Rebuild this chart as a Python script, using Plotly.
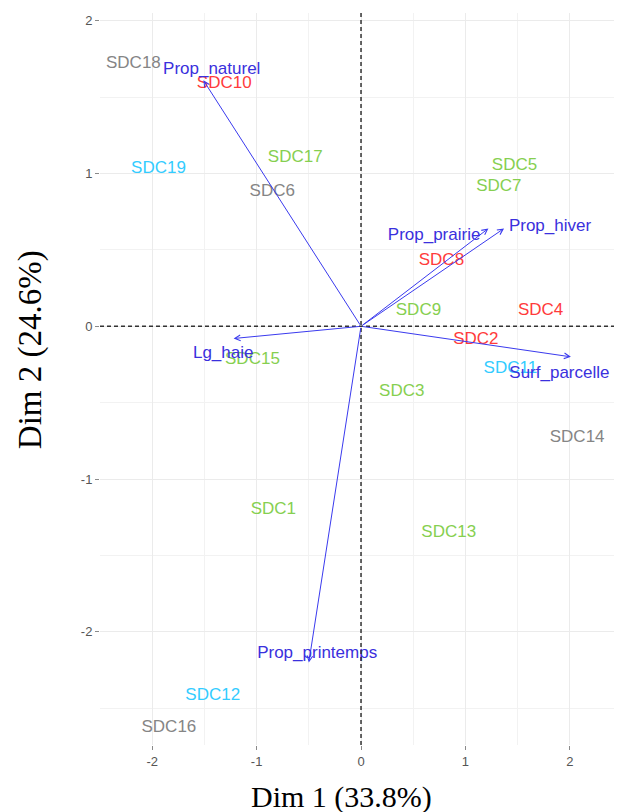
import plotly.graph_objects as go

# Individuals (PCA scores)
ind_names = ["SDC1", "SDC2", "SDC3", "SDC4", "SDC5", "SDC6", "SDC7", "SDC8", "SDC9", "SDC10",
             "SDC11", "SDC12", "SDC13", "SDC14", "SDC15", "SDC16", "SDC17", "SDC18", "SDC19"]
ind_x = [-0.84, 1.10, 0.39, 1.72, 1.47, -0.85, 1.32, 0.77, 0.55, -1.31,
         1.43, -1.42, 0.84, 2.07, -1.04, -1.84, -0.63, -2.18, -1.94]
ind_y = [-1.20, -0.085, -0.43, 0.10, 1.05, 0.88, 0.91, 0.43, 0.10, 1.59,
         -0.28, -2.42, -1.35, -0.73, -0.22, -2.63, 1.10, 1.72, 1.03]
ind_group = ["vert", "rouge", "vert", "rouge", "vert", "gris", "vert", "rouge", "vert", "rouge",
             "cyan", "cyan", "vert", "gris", "vert", "gris", "vert", "gris", "cyan"]

# Variables (arrow tips) and their label positions
var_names = ["Prop_naturel", "Prop_prairie", "Prop_hiver", "Surf_parcelle", "Lg_haie", "Prop_printemps"]
var_x = [-1.51, 1.22, 1.37, 2.01, -1.22, -0.50]
var_y = [1.61, 0.64, 0.64, -0.20, -0.08, -2.20]
var_lab_x = [-1.43, 0.70, 1.81, 1.90, -1.32, -0.42]
var_lab_y = [1.68, 0.59, 0.65, -0.31, -0.18, -2.14]

x_ticks = [-2, -1, 0, 1, 2]
y_ticks = [-2, -1, 0, 1, 2]
x_title = "Dim 1 (33.8%)"
y_title = "Dim 2 (24.6%)"

group_colors = {"rouge": "#ff3b3b", "vert": "#86cf50", "cyan": "#33ccff", "gris": "#858585"}
arrow_color = "#3a3aee"
label_font = "Arial, Liberation Sans, sans-serif"

fig = go.Figure()

for g in ["gris", "cyan", "vert", "rouge"]:
    idx = [i for i, gg in enumerate(ind_group) if gg == g]
    fig.add_trace(go.Scatter(
        x=[ind_x[i] for i in idx], y=[ind_y[i] for i in idx],
        text=[ind_names[i] for i in idx], mode="text",
        textposition="middle center",
        textfont=dict(family=label_font, size=17, color=group_colors[g]),
        showlegend=False, hoverinfo="skip", cliponaxis=False))

fig.add_trace(go.Scatter(
    x=var_lab_x, y=var_lab_y, text=var_names, mode="text",
    textposition="middle center",
    textfont=dict(family=label_font, size=17, color="#3a30dd"),
    showlegend=False, hoverinfo="skip", cliponaxis=False))

for vx, vy in zip(var_x, var_y):
    fig.add_annotation(x=vx, y=vy, ax=0, ay=0, xref="x", yref="y", axref="x", ayref="y",
                       showarrow=True, arrowhead=5, arrowsize=1.1, arrowwidth=1,
                       arrowcolor=arrow_color, text="")

# dashed axes through origin
fig.add_shape(type="line", xref="x", yref="paper", x0=0, x1=0, y0=0, y1=1,
              line=dict(color="#333333", width=1.5, dash="4px,3px"))
fig.add_shape(type="line", xref="paper", yref="y", x0=0, x1=1, y0=0, y1=0,
              line=dict(color="#333333", width=1.5, dash="4px,3px"))

axis_common = dict(showgrid=True, gridcolor="#ebebeb", gridwidth=1, zeroline=False,
                   showline=False, ticks="outside", ticklen=4, tickcolor="#8a8a8a",
                   automargin=False,
                   tickfont=dict(family=label_font, size=13, color="#555555"))

fig.update_xaxes(range=[-2.5, 2.49], tickvals=x_ticks, ticktext=[str(v) for v in x_ticks],
                 minor=dict(dtick=0.5, tick0=0, showgrid=True, gridcolor="#f2f2f2", ticks=""),
                 **axis_common)
fig.update_yaxes(range=[-2.74, 2.05], tickvals=y_ticks, ticktext=[str(v) for v in y_ticks],
                 minor=dict(dtick=0.5, tick0=0, showgrid=True, gridcolor="#f2f2f2", ticks=""),
                 **axis_common)

fig.add_annotation(text=x_title, xref="paper", yref="paper", x=0.4626, y=-0.071,
                   xanchor="center", yanchor="middle", showarrow=False,
                   font=dict(family="Times New Roman, Liberation Serif, serif", size=30, color="black"))
fig.add_annotation(text=y_title, xref="paper", yref="paper", x=-0.134, y=0.5396,
                   xanchor="center", yanchor="middle", showarrow=False, textangle=-90,
                   font=dict(family="Times New Roman, Liberation Serif, serif", size=33, color="black"))

# page body has an 8px margin, so the plot area is offset accordingly
fig.update_layout(width=622, height=812, margin=dict(l=92, r=9, t=5, b=75),
                  plot_bgcolor="white", paper_bgcolor="white")

fig.write_html("out.html")
